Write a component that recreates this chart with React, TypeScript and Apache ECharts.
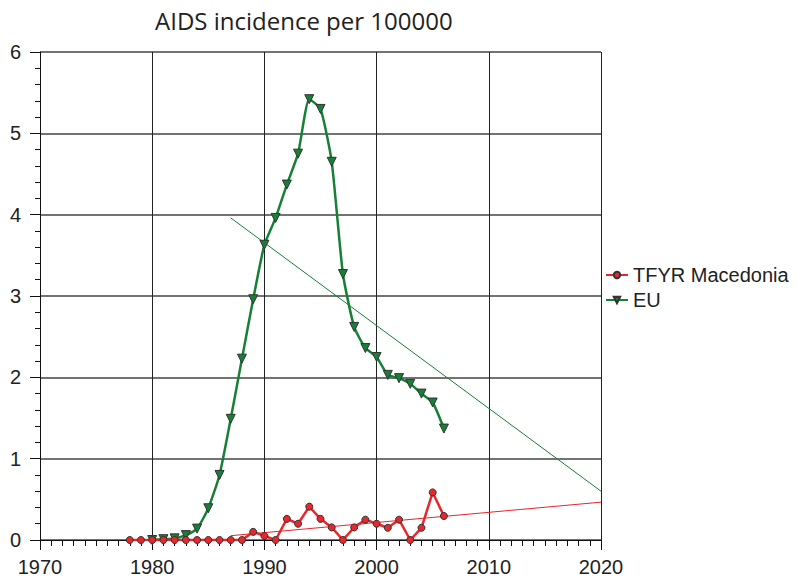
import React, { useEffect, useRef } from "react";
import * as echarts from "echarts";

const macYears = [1978, 1979, 1980, 1981, 1982, 1983, 1984, 1985, 1986, 1987, 1988, 1989, 1990, 1991, 1992, 1993, 1994, 1995, 1996, 1997, 1998, 1999, 2000, 2001, 2002, 2003, 2004, 2005, 2006];
const macValues = [0, 0, 0, 0, 0, 0, 0, 0, 0, 0, 0, 0.1, 0.05, 0, 0.26, 0.2, 0.41, 0.26, 0.155, 0, 0.155, 0.25, 0.2, 0.15, 0.25, 0, 0.15, 0.585, 0.295];

const euYears = [1980, 1981, 1982, 1983, 1984, 1985, 1986, 1987, 1988, 1989, 1990, 1991, 1992, 1993, 1994, 1995, 1996, 1997, 1998, 1999, 2000, 2001, 2002, 2003, 2004, 2005, 2006];
const euValues = [0, 0.01, 0.02, 0.06, 0.14, 0.39, 0.8, 1.49, 2.23, 2.96, 3.63, 3.96, 4.37, 4.75, 5.42, 5.3, 4.65, 3.27, 2.62, 2.36, 2.25, 2.03, 1.99, 1.92, 1.8, 1.69, 1.37];

const macTrend = [[1987, 0.053], [2020, 0.465]];
const euTrend = [[1987, 3.96], [2020, 0.6]];

const seriesNames = ["TFYR Macedonia", "EU"];
const chartTitle = "AIDS incidence per 100000";

const RED = "#e8262b";
const GREEN = "#178037";
const FONT = "'Liberation Sans', Arial, sans-serif";

export default function App() {
  const ref = useRef<HTMLDivElement>(null);
  useEffect(() => {
    if (!ref.current) return;
    const chart = echarts.init(ref.current, null, { renderer: "svg" });
    chart.setOption({
      animation: false,
      backgroundColor: "#fff",
      title: {
        text: chartTitle,
        left: 150,
        top: 3,
        textStyle: { fontFamily: "'Open Sans', sans-serif", fontWeight: "normal", fontSize: 24, color: "#222" },
      },
      legend: {
        orient: "vertical",
        left: 600,
        top: 260,
        itemGap: 5,
        itemWidth: 22,
        itemHeight: 8,
        data: seriesNames,
        textStyle: { fontFamily: FONT, fontSize: 20, color: "#222" },
      },
      grid: { left: 40, right: 196, top: 52, bottom: 41, containLabel: false },
      xAxis: {
        type: "value",
        min: 1970,
        max: 2020,
        interval: 10,
        axisLine: { show: true, lineStyle: { color: "#111", width: 1 } },
        axisTick: { show: true, length: 10, lineStyle: { color: "#111" } },
        minorTick: { show: true, splitNumber: 10, length: 6, lineStyle: { color: "#111" } },
        splitLine: { show: true, lineStyle: { color: "#222", width: 1 } },
        axisLabel: { fontFamily: FONT, fontSize: 20, color: "#222", margin: 17, formatter: (v: number) => String(v) },
      },
      yAxis: {
        type: "value",
        min: 0,
        max: 6,
        interval: 1,
        axisLine: { show: true, lineStyle: { color: "#111", width: 1 } },
        axisTick: { show: true, length: 10, lineStyle: { color: "#111" } },
        minorTick: { show: true, splitNumber: 5, length: 5, lineStyle: { color: "#111" } },
        splitLine: { show: true, lineStyle: { color: "#444", width: 1.5 } },
        axisLabel: { fontFamily: FONT, fontSize: 20, color: "#222", margin: 19 },
      },
      series: [
        {
          name: "euTrend",
          type: "line",
          data: euTrend,
          symbol: "none",
          lineStyle: { color: GREEN, width: 1 },
          silent: true,
          z: 2,
        },
        {
          name: "macTrend",
          type: "line",
          data: macTrend,
          symbol: "none",
          lineStyle: { color: RED, width: 1 },
          silent: true,
          z: 2,
        },
        {
          name: seriesNames[1],
          type: "line",
          data: euYears.map((y, i) => [y, euValues[i]]),
          smooth: 0.18,
          symbol: "triangle",
          symbolRotate: 180,
          symbolSize: 9,
          color: GREEN,
          lineStyle: { color: GREEN, width: 2.5 },
          itemStyle: { color: GREEN, borderColor: "#333", borderWidth: 1 },
          z: 3,
        },
        {
          name: seriesNames[0],
          type: "line",
          data: macYears.map((y, i) => [y, macValues[i]]),
          symbol: "circle",
          symbolSize: 7,
          color: RED,
          lineStyle: { color: RED, width: 2.5 },
          itemStyle: { color: RED, borderColor: "#333", borderWidth: 1 },
          z: 4,
        },
      ],
    });
    return () => chart.dispose();
  }, []);
  return <div ref={ref} style={{ width: 797, height: 581, position: "absolute", left: 0, top: 0 }} />;
}
